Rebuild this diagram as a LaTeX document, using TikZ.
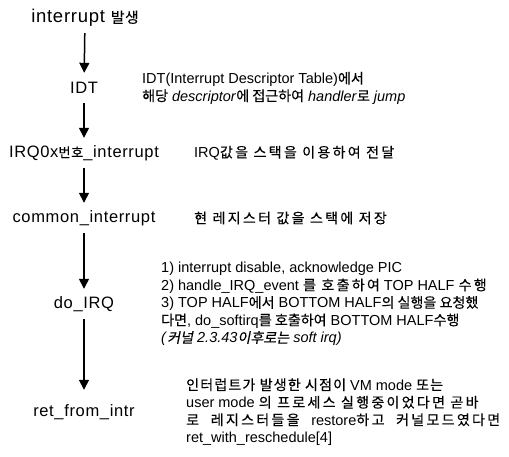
\documentclass[tikz,border=0pt]{standalone}
\usepackage{fontspec}
\setmainfont{Liberation Sans}
\newfontfamily\labfont[LetterSpace=4]{Liberation Sans}
\newfontfamily\krfont[Scale=0.97,FakeBold=0.3]{Noto Sans CJK KR}
\newfontfamily\krspaced[Scale=0.97,FakeBold=0.3,LetterSpace=16]{Noto Sans CJK KR}
\newfontfamily\krmid[Scale=0.97,FakeBold=0.3,LetterSpace=8]{Noto Sans CJK KR}
\newfontfamily\krslant[Scale=0.97,FakeBold=0.3,FakeSlant=0.2]{Noto Sans CJK KR}
\newfontfamily\krlab[Scale=0.8,LetterSpace=4,FakeBold=0.4]{Noto Sans CJK KR}
\newcommand\K[1]{{\krfont #1}}
\newcommand\KS[1]{{\krspaced #1}}
\newcommand\KM[1]{{\krmid #1}}
\newcommand\KI[1]{{\krslant #1}}
\newcommand\KL[1]{{\krlab #1}}
\newcommand\jline[2]{\makebox[#1pt][s]{#2}}
\usetikzlibrary{arrows.meta}
\tikzset{
  lab/.style={font=\labfont\fontsize{16.5}{16.5}\selectfont, minimum height=30pt, inner ysep=0pt, inner xsep=0pt},
  desc/.style={font=\fontsize{14.5}{17.5}\selectfont, align=left, anchor=west, inner sep=0pt},
  arr/.style={line width=1.5pt, -{Triangle[width=10pt,length=10pt]}}
}
\begin{document}
\begin{tikzpicture}[x=1pt,y=-1pt]
\useasboundingbox[fill=white] (0,0) rectangle (509,457);
\node[lab, font=\labfont\fontsize{18.5}{18.5}\selectfont] (n1) at (85,18) {interrupt \KL{발생}};
\node[lab] (n2) at (84,88) {IDT};
\node[lab] (n3) at (84,153) {IRQ0x\KL{번호}\_interrupt};
\node[lab] (n4) at (84,218) {common\_interrupt};
\node[lab] (n5) at (84,304) {do\_IRQ};
\node[lab] (n6) at (84,412) {ret\_from\_intr};
\draw[arr] (n1) -- (n2);
\draw[arr] (n2) -- (n3);
\draw[arr] (n3) -- (n4);
\draw[arr] (n4) -- (n5);
\draw[arr, shorten >=7pt] (n5) -- (n6);
\node[desc] (d2) at (142,88) {IDT(Interrupt Descriptor Table)\K{에서}\\
\K{해당} \textit{descriptor}\K{에 접근하여} \textit{handler}\K{로} \textit{jump}};
\node[desc] (d3) at (194,153) {IRQ\KS{값을 스택을 이용하여 전달}};
\node[desc] (d4) at (194,218) {\KS{현 레지스터 값을 스택에 저장}};
\node[desc] (d5) at (161,304) {1) interrupt disable, acknowledge PIC\\
2) handle\_IRQ\_event \KS{를 호출하여} TOP HALF \KS{수행}\\
3) TOP HALF\K{에서} BOTTOM HALF\K{의 실행을 요청했}\\
\K{다면}, do\_softirq\K{를 호출하여} BOTTOM HALF\K{수행}\\
\textit{(}\KI{커널} \textit{2.3.43}\KI{이후로는} \textit{soft irq)}};
\node[desc] (d6) at (186,412) {\KM{인터럽트가 발생한 시점이} VM mode \KM{또는}\\
user mode \KS{의 프로세스 실행중이었다면 곧바}\\
\jline{314}{\KS{로} \KS{레지스터들을} restore\KS{하고} \KS{커널모드였다면}}\\
ret\_with\_reschedule[4]};
\end{tikzpicture}
\end{document}
